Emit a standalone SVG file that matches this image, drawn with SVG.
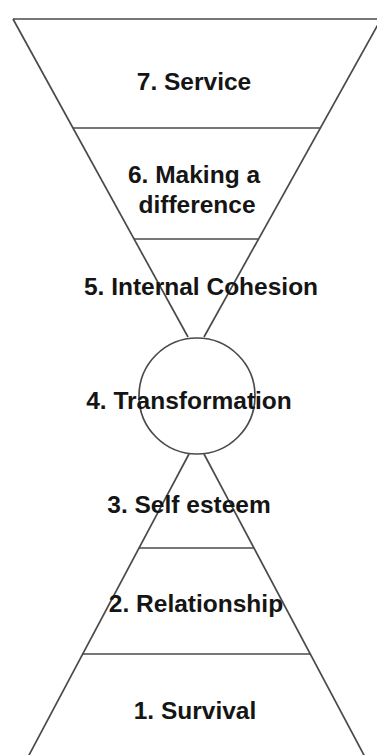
<svg xmlns="http://www.w3.org/2000/svg" width="377" height="755" viewBox="0 0 377 755">
<style>
.ln{stroke:#4a4a4a;stroke-width:1.7;fill:none}
.c{stroke:#4a4a4a;stroke-width:1.7;fill:#fff}
.t{font-family:"Liberation Sans",Arial,sans-serif;font-weight:bold;font-size:24.5px;fill:#151515;text-anchor:middle}
</style>
<rect width="377" height="755" fill="#fff"/>
<g id="connectors">
<line class="ln" x1="13" y1="19" x2="381" y2="19"/>
<line class="ln" x1="13" y1="19" x2="188" y2="337"/>
<line class="ln" x1="381" y1="19" x2="204" y2="337"/>
<line class="ln" x1="189" y1="454" x2="28" y2="757"/>
<line class="ln" x1="204" y1="454" x2="365" y2="757"/>
</g>
<g id="n7"><text class="t" x="194" y="90">7. Service</text></g>
<g id="n6"><line class="ln" x1="73" y1="128" x2="320" y2="128"/><text class="t" x="194" y="183">6. Making a</text><text class="t" x="197" y="213">difference</text></g>
<g id="n5"><line class="ln" x1="134" y1="239" x2="258" y2="239"/><text class="t" x="201" y="295">5. Internal Cohesion</text></g>
<g id="n4"><circle class="c" cx="197" cy="396" r="58"/><text class="t" x="189" y="409">4. Transformation</text></g>
<g id="n3"><text class="t" x="189" y="513">3. Self esteem</text></g>
<g id="n2"><line class="ln" x1="139" y1="548" x2="254" y2="548"/><text class="t" x="196" y="612">2. Relationship</text></g>
<g id="n1"><line class="ln" x1="82" y1="654" x2="311" y2="654"/><text class="t" x="195" y="719">1. Survival</text></g>
</svg>
